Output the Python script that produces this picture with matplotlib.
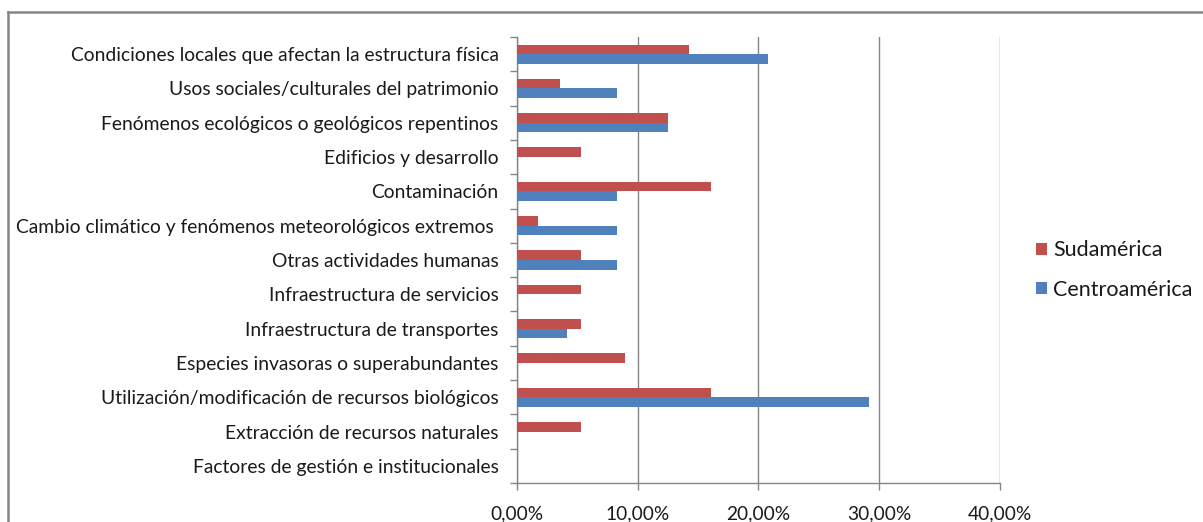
import numpy as np
import matplotlib.pyplot as plt
from matplotlib.patches import Patch
from matplotlib.lines import Line2D
from matplotlib.ticker import FixedLocator, FuncFormatter

# Categories (top to bottom as shown)
categories = [
    "Condiciones locales que afectan la estructura física",
    "Usos sociales/culturales del patrimonio",
    "Fenómenos ecológicos o geológicos repentinos",
    "Edificios y desarrollo",
    "Contaminación",
    "Cambio climático y fenómenos meteorológicos extremos ",
    "Otras actividades humanas",
    "Infraestructura de servicios",
    "Infraestructura de transportes",
    "Especies invasoras o superabundantes",
    "Utilización/modificación de recursos biológicos",
    "Extracción de recursos naturales",
    "Factores de gestión e institucionales",
]

# Percentages
sudamerica = [14.29, 3.57, 12.50, 5.36, 16.07, 1.79, 5.36, 5.36, 5.36, 8.93, 16.07, 5.36, 0.0]
centroamerica = [20.83, 8.33, 12.50, 0.0, 8.33, 8.33, 8.33, 0.0, 4.17, 0.0, 29.17, 0.0, 0.0]

RED = "#C0504D"
BLUE = "#4F81BD"
GREY = "#868686"
TXT = "#1a1a1a"

plt.rcParams['font.family'] = ['Lato', 'DejaVu Sans']

fig = plt.figure(figsize=(12.03, 5.22), dpi=100)
W, H = 1203, 522
ax = fig.add_axes([516.7 / W, 1 - 483 / H, (1000 - 516.7) / W, (483 - 37) / H])

y = np.arange(len(categories))
h = 0.28
ax.barh(y - h / 2, sudamerica, height=h, color=RED, zorder=3, label="Sudamérica")
ax.barh(y + h / 2, centroamerica, height=h, color=BLUE, zorder=3, label="Centroamérica")

ax.set_ylim(len(categories) - 0.5, -0.5)
ax.set_xlim(0, 40)

# x axis
ax.set_xticks([0, 10, 20, 30, 40])
ax.xaxis.set_major_formatter(FuncFormatter(lambda v, p: f"{v:.2f}%".replace(".", ",")))
ax.tick_params(axis='x', length=5, width=1, color=GREY, pad=11, labelsize=13.8, labelcolor=TXT)
ax.grid(axis='x', color=GREY, linewidth=1, zorder=0)

# y axis: labels at centers, ticks at boundaries
ax.set_yticks(y)
ax.set_yticklabels(categories)
ax.tick_params(axis='y', which='major', length=0, pad=13, labelsize=13.9, labelcolor=TXT)
ax.yaxis.set_minor_locator(FixedLocator(np.arange(-0.5, len(categories) + 0.5, 1)))
ax.tick_params(axis='y', which='minor', length=5, width=1, color=GREY)

for s in ['top', 'right']:
    ax.spines[s].set_visible(False)
for s in ['left', 'bottom']:
    ax.spines[s].set_color(GREY)
    ax.spines[s].set_linewidth(1)

# chart area border (left and top visible)
fig.add_artist(Line2D([8 / W, 8 / W], [0, 1 - 12 / H], color=GREY, linewidth=1.8))
fig.add_artist(Line2D([8 / W, 1], [1 - 12 / H, 1 - 12 / H], color=GREY, linewidth=1.8))

handles = [Patch(facecolor=RED), Patch(facecolor=BLUE)]
fig.legend(handles, ["Sudamérica", "Centroamérica"], loc='center left',
           bbox_to_anchor=(1036 / W, 1 - 270 / H), frameon=False, fontsize=15.5,
           borderpad=0, borderaxespad=0,
           handlelength=0.5, handleheight=0.5, handletextpad=0.3, labelspacing=0.9,
           labelcolor=TXT)

fig.savefig("out.png", dpi=100)
